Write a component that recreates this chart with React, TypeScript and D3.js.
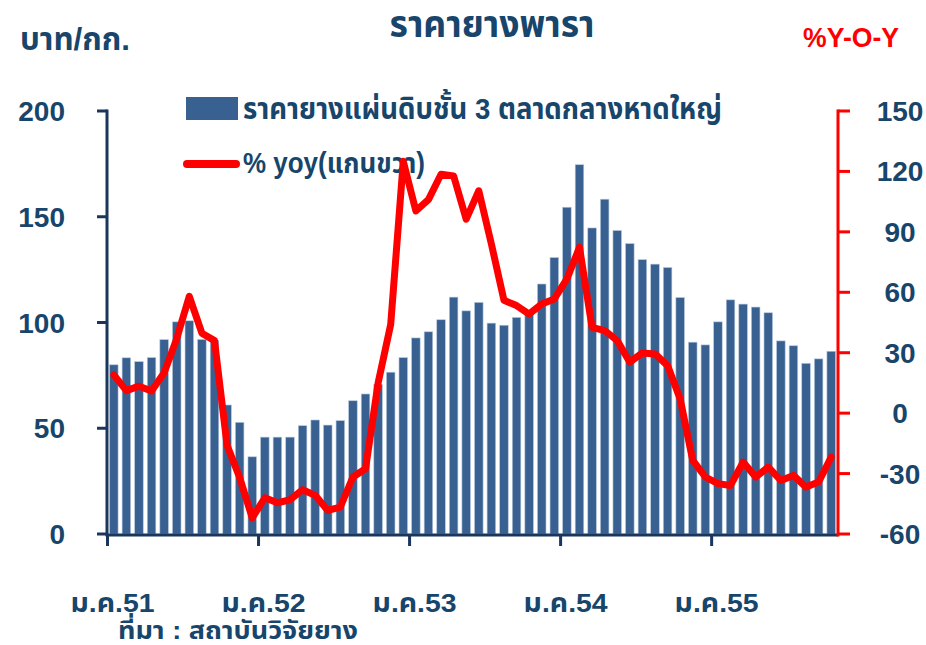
import React from "react";
import * as d3 from "d3";

const months: string[] = Array.from({ length: 58 }, (_, i) => `${i}`);
const priceValues: number[] = [
  80, 83.3, 81.5, 83.4, 91.9, 100.3, 100.8, 92, 91.6, 61, 52.8, 36.5,
  45.8, 45.8, 45.8, 51.2, 53.9, 51.5, 53.6, 63, 66.2, 70.8, 76.5, 83.4,
  92.7, 95.6, 101.3, 112, 105.5, 109.5, 99.7, 98.7, 102.4, 104, 118.2, 130.7,
  154.5, 174.6, 144.7, 158.3, 143.5, 137.3, 129.7, 127.6, 126, 111.8, 90.7, 89.4,
  100.3, 110.7, 108.7, 107.3, 104.6, 91.3, 89, 80.7, 82.8, 86.4,
];
const yoyValues: number[] = [
  19, 11.2, 13.4, 11, 20, 37, 58, 39.7, 36, -16, -32, -52,
  -42, -44.5, -43, -38, -40.8, -48.3, -46.6, -31.7, -27.6, 15, 44, 125,
  100.4, 106, 118.6, 117.8, 96.3, 110.4, 84, 56, 53.4, 49.2, 54.2, 56.7,
  66.6, 82.3, 42.6, 41, 36, 25.3, 29.9, 29.4, 23.6, 7, -23.5, -31.7,
  -35, -35.9, -24.3, -31.7, -26.8, -33.4, -30.9, -36.7, -34.2, -21.8,
];
const yearTickIndex: number[] = [0, 12, 24, 36, 48];
const yearTickLabels: string[] = ["ม.ค.51", "ม.ค.52", "ม.ค.53", "ม.ค.54", "ม.ค.55"];
const leftTicks: number[] = [0, 50, 100, 150, 200];
const rightTicks: number[] = [-60, -30, 0, 30, 60, 90, 120, 150];

const TEXT = "#17456B";
const AXIS = "#1B365D";
const BAR = "#386192";
const RED = "#FF0000";
const FONT = "'Liberation Sans Narrow', 'Arial Narrow', 'Liberation Sans', Arial, 'Noto Sans Thai', 'Noto Sans', sans-serif";
const NUMFONT = "'Liberation Sans', Arial, sans-serif";

export default function App() {
  const W = 926, H = 645;
  const x0 = 107, x1 = 838, yTop = 111, yBot = 534;
  const x = d3.scaleBand<string>().domain(months).range([x0, x1]).paddingInner(0.32).paddingOuter(0.2);
  const yL = d3.scaleLinear().domain([0, 200]).range([yBot, yTop]);
  const yR = d3.scaleLinear().domain([-60, 150]).range([yBot, yTop]);
  const bw = x.bandwidth();
  const step = x.step();
  const line = d3.line<number>()
    .x((_, i) => (x(months[i]) as number) + bw / 2)
    .y((d) => yR(d));
  const tickX = (i: number) => (x(months[i]) as number) - (step * 0.32) / 2;

  return (
    <svg width={W} height={H} style={{ position: "absolute", left: 0, top: 0, background: "#fff" }} fontFamily={FONT} fontWeight="bold">
      {/* titles */}
      <text x={492} y={37} textAnchor="middle" fontSize={38} fill={TEXT} textLength={205} lengthAdjust="spacingAndGlyphs">ราคายางพารา</text>
      <text x={20} y={50} fontSize={31} fill={TEXT} textLength={110} lengthAdjust="spacingAndGlyphs">บาท/กก.</text>
      <text x={803} y={47} fontSize={27} fill={RED} fontFamily={NUMFONT} textLength={96} lengthAdjust="spacingAndGlyphs">%Y-O-Y</text>

      {/* legend */}
      <rect x={186} y={97} width={52} height={23} fill={BAR} />
      <text x={243} y={119} fontSize={30} fill={TEXT} textLength={479} lengthAdjust="spacingAndGlyphs">ราคายางแผ่นดิบชั้น 3 ตลาดกลางหาดใหญ่</text>
      <line x1={187} x2={236} y1={164} y2={164} stroke={RED} strokeWidth={8} strokeLinecap="round" />
      <text x={243} y={173} fontSize={29} fill={TEXT} textLength={182} lengthAdjust="spacingAndGlyphs">% yoy(แกนขวา)</text>

      {/* bars */}
      {priceValues.map((v, i) => (
        <rect key={i} x={x(months[i])} y={yL(v)} width={bw} height={yL(0) - yL(v)} fill={BAR} stroke="#B7C8DD" strokeWidth={0.6} />
      ))}

      {/* left axis */}
      <line x1={x0} x2={x0} y1={yTop - 1.5} y2={yBot + 1.5} stroke={AXIS} strokeWidth={3} />
      {leftTicks.map((t) => (
        <g key={t}>
          <line x1={x0 - 10} x2={x0} y1={yL(t)} y2={yL(t)} stroke={AXIS} strokeWidth={3} />
          <text x={65} y={yL(t) + 10} textAnchor="end" fontSize={28} fill={TEXT} fontFamily={NUMFONT}>{t}</text>
        </g>
      ))}

      {/* bottom axis */}
      <line x1={x0 - 1.5} x2={x1} y1={yBot + 1} y2={yBot + 1} stroke={AXIS} strokeWidth={3} />
      {yearTickIndex.map((idx, k) => (
        <g key={idx}>
          <line x1={tickX(idx)} x2={tickX(idx)} y1={yBot} y2={yBot + 12} stroke={AXIS} strokeWidth={3} />
          <text x={tickX(idx) + 5} y={612} textAnchor="middle" fontSize={26} fill={TEXT} textLength={84} lengthAdjust="spacingAndGlyphs">{yearTickLabels[k]}</text>
        </g>
      ))}

      {/* right axis */}
      <line x1={x1} x2={x1} y1={yTop - 1.5} y2={yBot + 2.5} stroke={RED} strokeWidth={3} />
      {rightTicks.map((t) => (
        <g key={t}>
          <line x1={x1} x2={x1 + 12} y1={yR(t)} y2={yR(t)} stroke={RED} strokeWidth={3} />
          <text x={900} y={yR(t) + 10} textAnchor="middle" fontSize={28} fill={TEXT} fontFamily={NUMFONT}>{t}</text>
        </g>
      ))}

      {/* yoy line */}
      <path d={line(yoyValues) || ""} fill="none" stroke={RED} strokeWidth={7} strokeLinejoin="round" strokeLinecap="round" />

      {/* source */}
      <text x={118} y={639} fontSize={25} fill={TEXT} textLength={240} lengthAdjust="spacingAndGlyphs">ที่มา : สถาบันวิจัยยาง</text>
    </svg>
  );
}
